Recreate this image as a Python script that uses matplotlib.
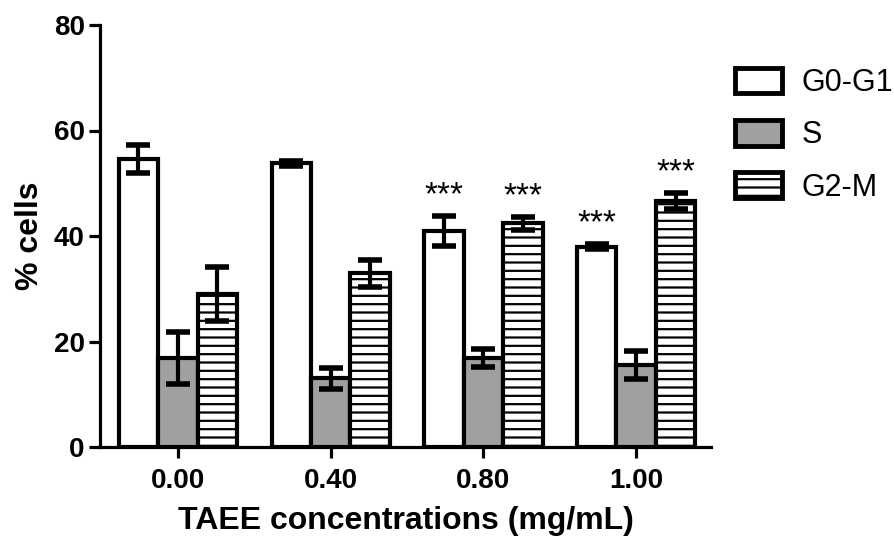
import matplotlib
matplotlib.use("Agg")
import matplotlib.pyplot as plt
import numpy as np
from matplotlib.patches import Patch

plt.rcParams['font.family'] = ['Liberation Sans', 'DejaVu Sans']
plt.rcParams['hatch.linewidth'] = 1.6

concentrations = ["0.00", "0.40", "0.80", "1.00"]
series = ["G0-G1", "S", "G2-M"]
g0g1 = [54.6, 53.8, 40.9, 38.0]
g0g1_err = [2.6, 0.5, 2.8, 0.5]
s_phase = [16.9, 13.0, 16.9, 15.5]
s_err = [4.9, 2.0, 1.7, 2.7]
g2m = [29.0, 32.9, 42.4, 46.6]
g2m_err = [5.2, 2.5, 1.2, 1.5]
# significance marks: (group index, series index)
sig_marks = [(2, 0), (2, 2), (3, 0), (3, 2)]
sig_text = "***"

values = [g0g1, s_phase, g2m]
errors = [g0g1_err, s_err, g2m_err]
faces = ['white', '#a0a0a0', 'white']
hatches = [None, None, '--']

fig = plt.figure(figsize=(8.94, 5.39), dpi=100)
ax = fig.add_axes([100/894, 92/539, 611/894, 422/539])

x = np.arange(len(concentrations))
w = 0.258
offsets = [-w, 0, w]
for i in range(3):
    ax.bar(x + offsets[i], values[i], width=w, facecolor=faces[i], edgecolor='black',
           linewidth=3, hatch=hatches[i], zorder=2)
    ax.errorbar(x + offsets[i], values[i], yerr=errors[i], fmt='none', ecolor='black',
                elinewidth=3, capsize=8.5, capthick=4, zorder=3)

for gi, si in sig_marks:
    top = values[si][gi] + errors[si][gi]
    ax.text(x[gi] + offsets[si], top + 3.9, sig_text, ha='center', va='center',
            fontsize=24, color='black')

ax.set_xlim(-0.51, 3.49)
ax.set_ylim(0, 80)
ax.set_yticks([0, 20, 40, 60, 80])
ax.set_xticks(x)
ax.set_xticklabels(concentrations)
for sp in ['top', 'right']:
    ax.spines[sp].set_visible(False)
for sp in ['left', 'bottom']:
    ax.spines[sp].set_linewidth(2.3)
ax.tick_params(axis='both', width=2.3, length=8, labelsize=20)
ax.tick_params(axis='x', pad=7)
ax.tick_params(axis='y', pad=3)
for lab in ax.get_xticklabels() + ax.get_yticklabels():
    lab.set_fontweight('bold')
ax.set_ylabel('% cells', fontsize=23, fontweight='bold', labelpad=6)
ax.set_xlabel('TAEE concentrations (mg/mL)', fontsize=23, fontweight='bold', labelpad=9)

handles = [Patch(facecolor=faces[i], edgecolor='black', linewidth=3.5, hatch=hatches[i])
           for i in range(3)]
fig.legend(handles, series, loc='upper left', bbox_to_anchor=(735/894, 1 - 68/539),
           frameon=False, fontsize=22, handlelength=1.55, handleheight=0.9,
           labelspacing=0.72, handletextpad=0.62, borderaxespad=0, borderpad=0)

fig.savefig('out.png', dpi=100)
